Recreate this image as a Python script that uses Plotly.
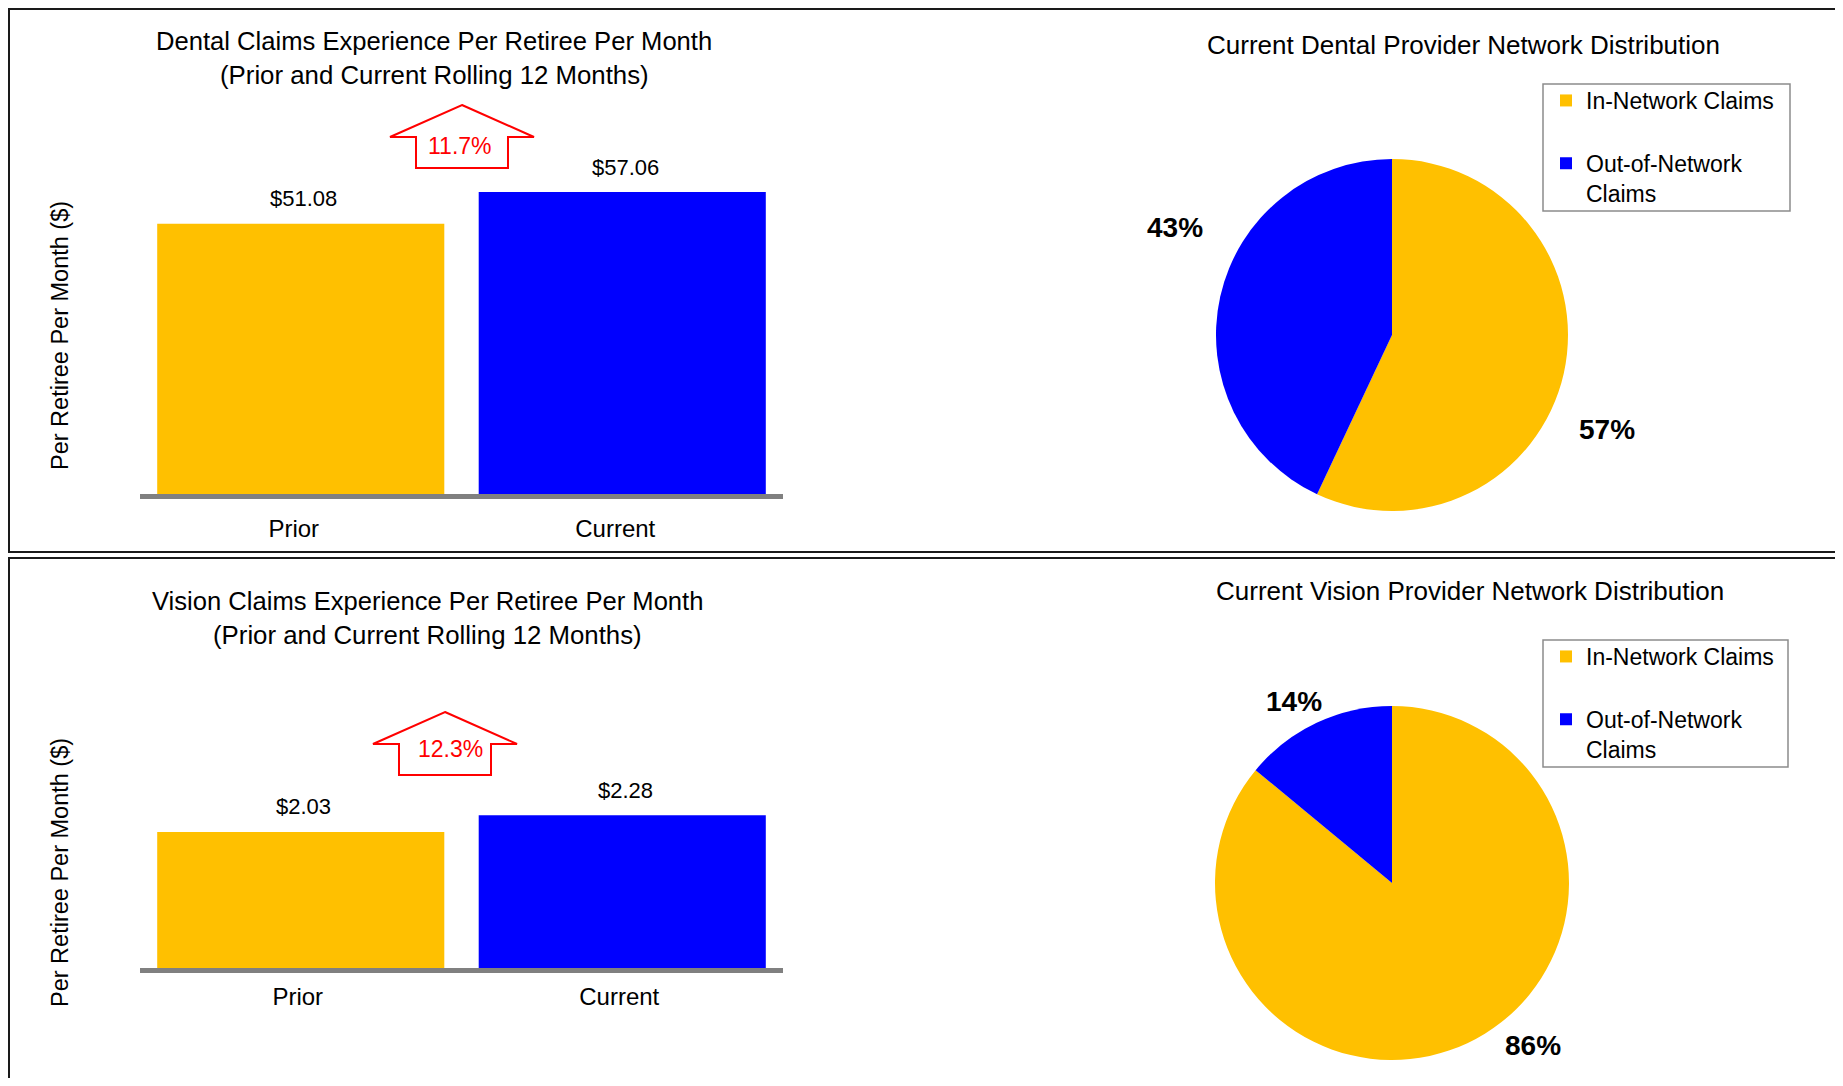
import plotly.graph_objects as go

# ---------------- data ----------------
categories = ["Prior", "Current"]
dental_pmpm = [51.08, 57.06]
vision_pmpm = [2.03, 2.28]
network_labels = ["In-Network Claims", "Out-of-Network Claims"]
dental_network_pct = [57, 43]
vision_network_pct = [86, 14]
bar_colors = ["#FFC000", "#0000FF"]
pie_colors = ["#FFC000", "#0000FF"]

# ---------------- page geometry helpers ----------------
W, H = 1827, 1070
OFF = 8  # body margin of the html page


def px(X):
    return (X - OFF) / W


def py(Y):
    return 1 - (Y - OFF) / H


FONT = "Liberation Sans, Arial, sans-serif"

# legend display text (wrapped); the second pie gets a trailing space so that
# plotly does not merge its legend entries with the first pie's entries
legend_text = {
    "In-Network Claims": "In-Network Claims<br> ",
    "Out-of-Network Claims": "Out-of-Network<br>Claims",
}

fig = go.Figure()

# ---------------- bar charts ----------------
for i, vals in enumerate([dental_pmpm, vision_pmpm]):
    ax = "" if i == 0 else str(i + 1)
    fig.add_trace(go.Bar(
        x=categories, y=vals, marker=dict(color=bar_colors, line=dict(width=0)),
        xaxis="x" + ax, yaxis="y" + ax, showlegend=False, hoverinfo="x+y",
    ))
    for c, v in zip(categories, vals):
        fig.add_annotation(
            x=c, y=v, xref="x" + ax, yref="y" + ax, text=f"${v:.2f}",
            showarrow=False, yanchor="middle", yshift=25, xshift=3,
            font=dict(family=FONT, size=22, color="black"),
        )

# ---------------- pies ----------------
pie_doms = [
    dict(x=[px(1216), px(1568)], y=[py(511), py(159)]),
    dict(x=[px(1215), px(1569)], y=[py(1060), py(706)]),
]
for i, vals in enumerate([dental_network_pct, vision_network_pct]):
    suffix = "" if i == 0 else " "
    fig.add_trace(go.Pie(
        labels=[legend_text[l] + suffix for l in network_labels], values=vals,
        marker=dict(colors=pie_colors, line=dict(width=0)),
        sort=False, direction="clockwise", rotation=0, textinfo="none",
        domain=pie_doms[i], legend="legend" if i == 0 else "legend2",
        hoverinfo="label+percent",
    ))

# percentage labels of the pies
pie_label_pos = [
    [(1607, 429), (1175, 227)],
    [(1533, 1045), (1294, 701)],
]
for vals, poss in zip([dental_network_pct, vision_network_pct], pie_label_pos):
    for v, (X, Y) in zip(vals, poss):
        fig.add_annotation(
            x=px(X), y=py(Y), xref="paper", yref="paper", text=f"<b>{v}%</b>",
            showarrow=False, xanchor="center", yanchor="middle",
            font=dict(family=FONT, size=28, color="black"),
        )

# ---------------- titles ----------------
titles = [
    ("Dental Claims Experience Per Retiree Per Month", 434, 41, 25.6),
    ("(Prior and Current Rolling 12 Months)", 434, 75, 25.8),
    ("Vision Claims Experience Per Retiree Per Month", 427, 601, 25.6),
    ("(Prior and Current Rolling 12 Months)", 427, 635, 25.8),
    ("Current Dental Provider Network Distribution", 1463, 45, 26),
    ("Current Vision Provider Network Distribution", 1470, 591, 26),
]
for t, X, Y, s in titles:
    fig.add_annotation(
        x=px(X), y=py(Y), xref="paper", yref="paper", text=t, showarrow=False,
        xanchor="center", yanchor="middle",
        font=dict(family=FONT, size=s, color="black"),
    )

# y axis titles
for Y in (336, 873):
    fig.add_annotation(
        x=px(60), y=py(Y), xref="paper", yref="paper",
        text="Per Retiree Per Month ($)", showarrow=False, textangle=-90,
        xanchor="center", yanchor="middle",
        font=dict(family=FONT, size=23.5, color="black"),
    )

# ---------------- change arrows ----------------
changes = [
    (dental_pmpm[1] / dental_pmpm[0] - 1) * 100,
    (vision_pmpm[1] / vision_pmpm[0] - 1) * 100,
]
arrows = [  # tip x, tip y, text x, text y
    (462, 105, 460, 146),
    (445, 712, 450, 749),
]
shapes = []
for chg, (tx, ty, lx, ly) in zip(changes, arrows):
    head_h, total_h, wing, shaft = 32, 63, 72, 46
    pts = [
        (tx, ty), (tx + wing, ty + head_h), (tx + shaft, ty + head_h),
        (tx + shaft, ty + total_h), (tx - shaft, ty + total_h),
        (tx - shaft, ty + head_h), (tx - wing, ty + head_h),
    ]
    path = "M " + " L ".join(f"{px(a):.5f},{py(b):.5f}" for a, b in pts) + " Z"
    shapes.append(dict(type="path", path=path, xref="paper", yref="paper",
                       line=dict(color="#FF0000", width=2), fillcolor="rgba(0,0,0,0)"))
    fig.add_annotation(
        x=px(lx), y=py(ly), xref="paper", yref="paper", text=f"{chg:.1f}%",
        showarrow=False, xanchor="center", yanchor="middle",
        font=dict(family=FONT, size=23, color="#FF0000"),
    )

# legend boxes
for (x0, y0, x1, y1) in [(1543, 84, 1790, 211), (1543, 640, 1788, 767)]:
    shapes.append(dict(type="rect", xref="paper", yref="paper",
                       x0=px(x0), x1=px(x1), y0=py(y0), y1=py(y1),
                       line=dict(color="#8C8C8C", width=1.5), fillcolor="rgba(0,0,0,0)"))

# panel borders
for (x0, y0, x1, y1) in [(9, 9, 1860, 552), (9, 558, 1860, 1110)]:
    shapes.append(dict(type="rect", xref="paper", yref="paper",
                       x0=px(x0), x1=px(x1), y0=py(y0), y1=py(y1),
                       line=dict(color="#1A1A1A", width=2), fillcolor="rgba(0,0,0,0)"))

# ---------------- layout ----------------
xaxis_common = dict(
    type="category", range=[-0.5, 1.5], showline=True, linecolor="#808080",
    linewidth=4.5, ticks="", showgrid=False, zeroline=False, fixedrange=True,
    tickfont=dict(family=FONT, size=24, color="black"),
    domain=[px(140), px(783)],
)
yaxis_common = dict(showline=False, showticklabels=False, ticks="", showgrid=False,
                    zeroline=False, fixedrange=True)

legend_common = dict(
    bgcolor="rgba(0,0,0,0)", borderwidth=0, xanchor="left", yanchor="top",
    valign="top", font=dict(family=FONT, size=23, color="black"),
    traceorder="normal", itemclick=False, itemdoubleclick=False,
)

fig.update_layout(
    width=W, height=H, margin=dict(l=0, r=0, t=0, b=0, autoexpand=False),
    paper_bgcolor="white", plot_bgcolor="white", bargap=0.107,
    xaxis=dict(**xaxis_common, anchor="y", ticklabelstandoff=9, ticklabelshift=-7),
    yaxis=dict(**yaxis_common, anchor="x", range=[0, 65], domain=[py(494), py(150)]),
    xaxis2=dict(**xaxis_common, anchor="y2", ticklabelstandoff=3, ticklabelshift=-3),
    yaxis2=dict(**yaxis_common, anchor="x2", range=[0, 3.0], domain=[py(968), py(767)]),
    legend=dict(**legend_common, x=px(1546), y=py(79)),
    legend2=dict(**legend_common, x=px(1546), y=py(635)),
    shapes=shapes,
    showlegend=True,
)

fig.write_html("out.html")
